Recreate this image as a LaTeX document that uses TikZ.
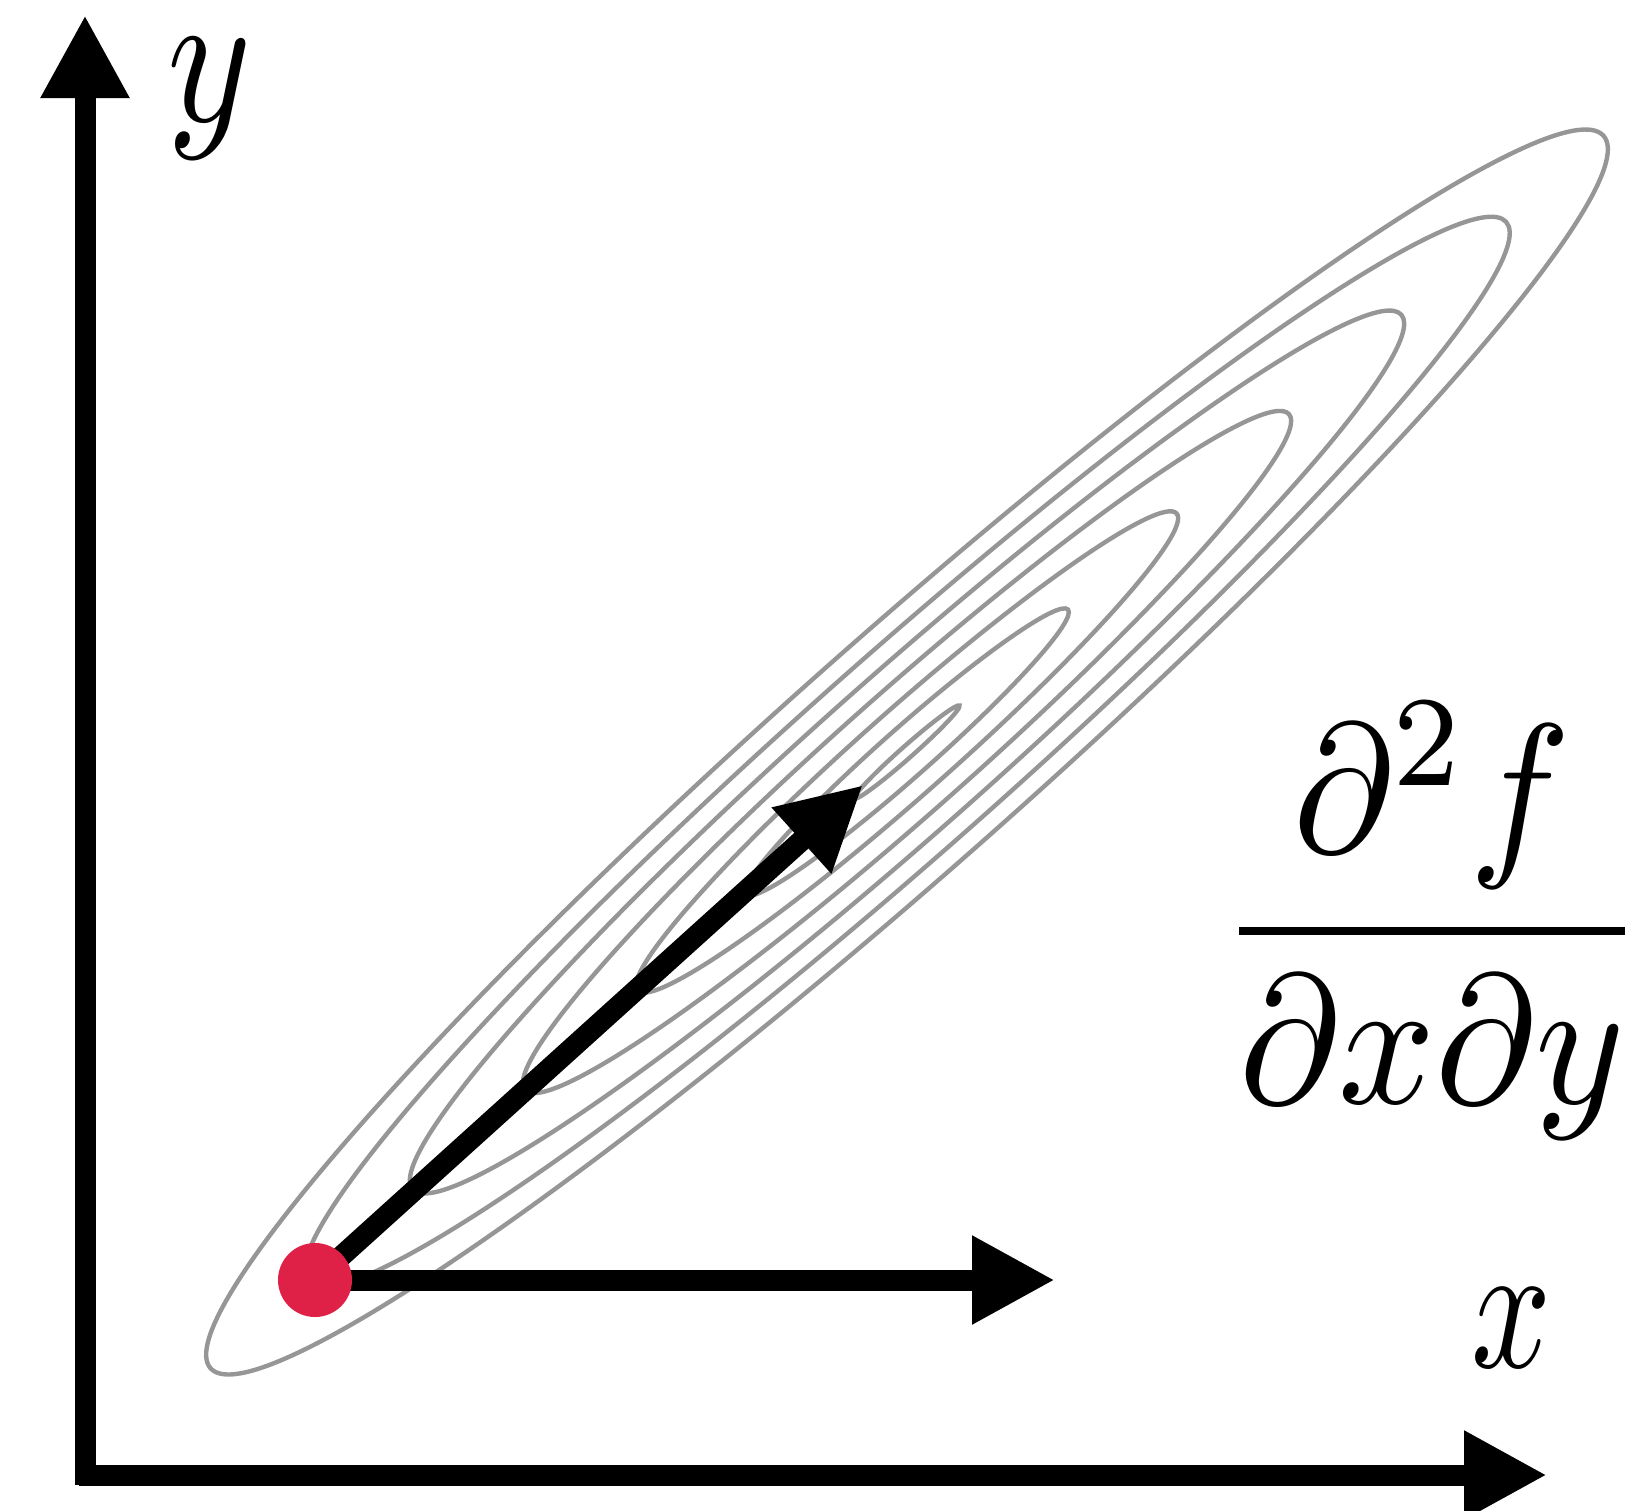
\documentclass[tikz,border=0pt]{standalone}
\usetikzlibrary{arrows.meta}
\definecolor{contourgray}{RGB}{150,150,150}
\definecolor{dotred}{RGB}{224,33,71}
\begin{document}
\begin{tikzpicture}[x=1pt,y=-1pt,
  contour/.style={draw=contourgray, line width=4.4pt},
  thickarrow/.style={line width=21pt, -{Triangle[length=83pt,width=83pt]}},
  mathlabel/.style={inner sep=0pt, anchor=base}]
\useasboundingbox (0,0) rectangle (1649,1510);
% contour lines
\foreach \a/\b in {70/6, 215/24.5, 360/43, 510/61.5, 660/80, 800/98.5, 930/117}{
  \draw[contour, shift={(907,752)}, rotate=41.5] (0,0) ellipse [x radius=\a pt, y radius=\b pt];
}
% axes
\coordinate (ybot) at (85,1485);
\coordinate (ytip) at (85,15);
\coordinate (xleft) at (79,1475);
\coordinate (xtip) at (1547,1475);
\draw[thickarrow] (ybot) -- (ytip);
\draw[thickarrow] (xleft) -- (xtip);
% labels
\node[mathlabel, xscale=16, yscale=19.3] (ylab) at (210,121) {$y$};
\node[mathlabel, xscale=14, yscale=18.3] (xlab) at (1511,1367) {$x$};
\node[mathlabel, xscale=17, yscale=18.4] (frac) at (1432,977) {$\displaystyle\frac{\partial^2 f}{\partial x\partial y}$};
% gradient arrows
\coordinate (p0) at (315,1280);
\coordinate (tipx) at (1055,1280);
\coordinate (tipd) at (863,785);
\draw[thickarrow] (p0) -- (tipx);
\draw[thickarrow] (p0) -- (tipd);
\node[circle, fill=dotred, minimum size=74pt, inner sep=0pt] (p) at (p0) {};
\end{tikzpicture}
\end{document}
